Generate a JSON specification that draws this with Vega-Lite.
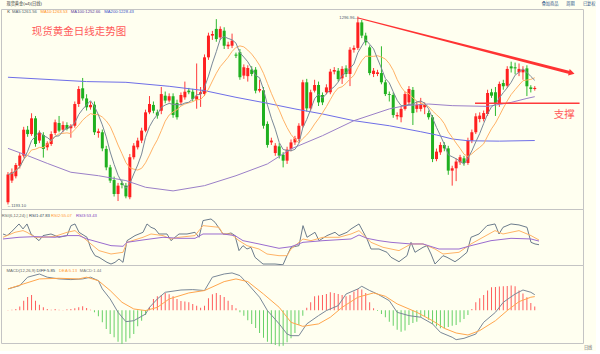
{
  "$schema": "https://vega.github.io/schema/vega-lite/v6.json",
  "background": "#fffff0",
  "padding": {"left": 0, "top": 1, "right": 0, "bottom": 0},
  "spacing": 0,
  "bounds": "flush",
  "resolve": {"scale": {"color": "independent", "size": "independent"}},
  "config": {
    "view": {"stroke": "#c4c4c4", "strokeWidth": 1},
    "axis": {"domain": false, "ticks": false, "labelFontSize": 5, "labelColor": "#555555", "labelFont": "Liberation Sans", "gridColor": "#cfcfcf", "gridDash": [2, 2], "gridWidth": 0.7, "labelPadding": 2}
  },
  "datasets": {
    "k": [
      {"i":0,"o":1194.3,"h":1211.0,"l":1193.1,"c":1209.6},
      {"i":1,"o":1206.3,"h":1213.0,"l":1205.0,"c":1210.9},
      {"i":2,"o":1208.7,"h":1216.0,"l":1207.5,"c":1214.9},
      {"i":3,"o":1214.5,"h":1221.5,"l":1213.0,"c":1220.1},
      {"i":4,"o":1220.1,"h":1236.0,"l":1219.0,"c":1234.4},
      {"i":5,"o":1234.4,"h":1236.5,"l":1230.5,"c":1232.0},
      {"i":6,"o":1232.0,"h":1243.5,"l":1231.0,"c":1240.7},
      {"i":7,"o":1240.7,"h":1242.0,"l":1225.0,"c":1226.5},
      {"i":8,"o":1228.4,"h":1234.0,"l":1227.0,"c":1232.6},
      {"i":9,"o":1231.5,"h":1233.0,"l":1219.0,"c":1223.8},
      {"i":10,"o":1224.7,"h":1228.0,"l":1223.0,"c":1226.9},
      {"i":11,"o":1226.5,"h":1233.5,"l":1225.5,"c":1232.0},
      {"i":12,"o":1232.6,"h":1240.0,"l":1231.5,"c":1238.5},
      {"i":13,"o":1238.1,"h":1242.0,"l":1233.0,"c":1233.9},
      {"i":14,"o":1234.4,"h":1239.0,"l":1233.0,"c":1237.0},
      {"i":15,"o":1237.0,"h":1238.5,"l":1234.0,"c":1234.8},
      {"i":16,"o":1235.2,"h":1237.5,"l":1230.0,"c":1236.6},
      {"i":17,"o":1236.6,"h":1250.0,"l":1235.5,"c":1248.6},
      {"i":18,"o":1248.6,"h":1258.5,"l":1247.0,"c":1256.9},
      {"i":19,"o":1257.3,"h":1263.0,"l":1250.5,"c":1251.7},
      {"i":20,"o":1251.7,"h":1254.0,"l":1245.0,"c":1246.8},
      {"i":21,"o":1246.8,"h":1250.0,"l":1245.5,"c":1248.1},
      {"i":22,"o":1248.2,"h":1250.0,"l":1231.5,"c":1233.0},
      {"i":23,"o":1232.6,"h":1235.0,"l":1230.0,"c":1233.5},
      {"i":24,"o":1233.0,"h":1234.5,"l":1222.5,"c":1224.1},
      {"i":25,"o":1223.8,"h":1225.5,"l":1212.0,"c":1213.6},
      {"i":26,"o":1213.6,"h":1215.0,"l":1205.0,"c":1206.3},
      {"i":27,"o":1206.6,"h":1208.5,"l":1197.5,"c":1198.9},
      {"i":28,"o":1198.9,"h":1205.0,"l":1195.0,"c":1203.5},
      {"i":29,"o":1205.0,"h":1206.5,"l":1202.0,"c":1203.9},
      {"i":30,"o":1203.5,"h":1205.0,"l":1196.5,"c":1197.6},
      {"i":31,"o":1197.1,"h":1221.0,"l":1196.0,"c":1219.2},
      {"i":32,"o":1219.2,"h":1227.0,"l":1218.0,"c":1225.6},
      {"i":33,"o":1224.7,"h":1230.0,"l":1223.5,"c":1228.4},
      {"i":34,"o":1228.4,"h":1235.5,"l":1227.0,"c":1233.9},
      {"i":35,"o":1233.9,"h":1245.5,"l":1233.0,"c":1244.0},
      {"i":36,"o":1244.0,"h":1253.0,"l":1243.0,"c":1248.6},
      {"i":37,"o":1248.1,"h":1250.0,"l":1243.5,"c":1244.9},
      {"i":38,"o":1244.0,"h":1245.5,"l":1240.5,"c":1242.2},
      {"i":39,"o":1244.9,"h":1258.0,"l":1243.0,"c":1254.1},
      {"i":40,"o":1253.2,"h":1255.5,"l":1249.0,"c":1250.5},
      {"i":41,"o":1250.5,"h":1254.5,"l":1249.5,"c":1252.9},
      {"i":42,"o":1252.9,"h":1254.5,"l":1241.0,"c":1242.5},
      {"i":43,"o":1249.2,"h":1251.0,"l":1240.0,"c":1241.3},
      {"i":44,"o":1249.5,"h":1255.0,"l":1248.0,"c":1253.6},
      {"i":45,"o":1252.3,"h":1261.0,"l":1251.0,"c":1255.4},
      {"i":46,"o":1256.0,"h":1257.5,"l":1254.0,"c":1255.1},
      {"i":47,"o":1255.4,"h":1257.0,"l":1250.0,"c":1251.4},
      {"i":48,"o":1251.0,"h":1271.0,"l":1246.0,"c":1252.9},
      {"i":49,"o":1254.1,"h":1258.0,"l":1247.0,"c":1255.1},
      {"i":50,"o":1254.1,"h":1276.0,"l":1253.0,"c":1274.4},
      {"i":51,"o":1274.4,"h":1288.0,"l":1273.0,"c":1286.4},
      {"i":52,"o":1286.4,"h":1289.0,"l":1284.0,"c":1287.3},
      {"i":53,"o":1290.1,"h":1295.5,"l":1283.0,"c":1284.5},
      {"i":54,"o":1285.4,"h":1291.5,"l":1284.0,"c":1290.1},
      {"i":55,"o":1289.1,"h":1291.0,"l":1279.0,"c":1280.8},
      {"i":56,"o":1280.5,"h":1283.0,"l":1279.0,"c":1281.4},
      {"i":57,"o":1280.8,"h":1287.5,"l":1279.5,"c":1283.6},
      {"i":58,"o":1275.9,"h":1277.0,"l":1274.0,"c":1275.3},
      {"i":59,"o":1277.2,"h":1279.0,"l":1262.0,"c":1263.4},
      {"i":60,"o":1264.3,"h":1270.5,"l":1262.5,"c":1268.9},
      {"i":61,"o":1264.0,"h":1270.0,"l":1261.0,"c":1268.5},
      {"i":62,"o":1267.6,"h":1269.5,"l":1264.0,"c":1265.2},
      {"i":63,"o":1267.6,"h":1269.0,"l":1254.5,"c":1256.0},
      {"i":64,"o":1256.0,"h":1262.0,"l":1255.0,"c":1256.9},
      {"i":65,"o":1256.2,"h":1258.0,"l":1235.0,"c":1236.6},
      {"i":66,"o":1237.6,"h":1239.0,"l":1224.5,"c":1226.0},
      {"i":67,"o":1227.4,"h":1230.0,"l":1226.0,"c":1228.4},
      {"i":68,"o":1221.5,"h":1227.0,"l":1220.0,"c":1225.6},
      {"i":69,"o":1225.2,"h":1227.0,"l":1218.5,"c":1220.1},
      {"i":70,"o":1220.6,"h":1222.0,"l":1213.6,"c":1217.3},
      {"i":71,"o":1217.3,"h":1225.0,"l":1215.5,"c":1223.4},
      {"i":72,"o":1223.8,"h":1229.0,"l":1222.5,"c":1227.4},
      {"i":73,"o":1227.4,"h":1231.0,"l":1226.0,"c":1229.6},
      {"i":74,"o":1229.3,"h":1238.0,"l":1228.0,"c":1236.6},
      {"i":75,"o":1236.6,"h":1262.0,"l":1235.5,"c":1260.6},
      {"i":76,"o":1260.6,"h":1262.5,"l":1244.5,"c":1246.2},
      {"i":77,"o":1246.2,"h":1256.5,"l":1245.0,"c":1255.1},
      {"i":78,"o":1256.0,"h":1262.0,"l":1255.0,"c":1259.1},
      {"i":79,"o":1259.1,"h":1261.0,"l":1247.5,"c":1249.5},
      {"i":80,"o":1253.6,"h":1255.0,"l":1248.0,"c":1249.5},
      {"i":81,"o":1255.1,"h":1259.5,"l":1254.0,"c":1257.8},
      {"i":82,"o":1255.1,"h":1268.0,"l":1254.0,"c":1266.5},
      {"i":83,"o":1266.5,"h":1269.0,"l":1265.0,"c":1267.4},
      {"i":84,"o":1267.0,"h":1268.5,"l":1261.0,"c":1262.4},
      {"i":85,"o":1262.8,"h":1269.5,"l":1259.7,"c":1268.0},
      {"i":86,"o":1268.3,"h":1270.0,"l":1263.5,"c":1265.2},
      {"i":87,"o":1265.2,"h":1280.0,"l":1258.5,"c":1278.6},
      {"i":88,"o":1278.6,"h":1281.0,"l":1277.0,"c":1279.6},
      {"i":89,"o":1279.6,"h":1296.96,"l":1278.5,"c":1293.7},
      {"i":90,"o":1293.7,"h":1295.0,"l":1285.0,"c":1286.4},
      {"i":91,"o":1286.4,"h":1288.0,"l":1281.0,"c":1282.7},
      {"i":92,"o":1279.9,"h":1281.0,"l":1264.5,"c":1265.7},
      {"i":93,"o":1265.2,"h":1268.5,"l":1263.5,"c":1267.0},
      {"i":94,"o":1265.2,"h":1267.5,"l":1264.0,"c":1266.1},
      {"i":95,"o":1265.7,"h":1280.5,"l":1259.5,"c":1260.6},
      {"i":96,"o":1260.6,"h":1262.0,"l":1253.0,"c":1254.1},
      {"i":97,"o":1254.1,"h":1255.5,"l":1250.0,"c":1253.6},
      {"i":98,"o":1253.6,"h":1255.0,"l":1241.0,"c":1242.5},
      {"i":99,"o":1241.8,"h":1244.0,"l":1240.0,"c":1242.5},
      {"i":100,"o":1241.3,"h":1247.5,"l":1238.5,"c":1245.9},
      {"i":101,"o":1245.9,"h":1255.5,"l":1245.0,"c":1254.1},
      {"i":102,"o":1249.5,"h":1258.5,"l":1248.0,"c":1256.9},
      {"i":103,"o":1256.4,"h":1258.0,"l":1237.0,"c":1243.6},
      {"i":104,"o":1245.9,"h":1250.0,"l":1244.0,"c":1248.1},
      {"i":105,"o":1245.9,"h":1252.0,"l":1244.5,"c":1248.6},
      {"i":106,"o":1246.8,"h":1249.5,"l":1243.0,"c":1248.1},
      {"i":107,"o":1243.6,"h":1245.0,"l":1240.0,"c":1241.3},
      {"i":108,"o":1241.3,"h":1242.5,"l":1216.5,"c":1218.2},
      {"i":109,"o":1218.2,"h":1224.0,"l":1217.0,"c":1222.3},
      {"i":110,"o":1221.9,"h":1227.5,"l":1220.5,"c":1226.0},
      {"i":111,"o":1226.0,"h":1227.5,"l":1222.5,"c":1224.1},
      {"i":112,"o":1224.1,"h":1225.5,"l":1209.5,"c":1211.8},
      {"i":113,"o":1211.8,"h":1214.5,"l":1203.5,"c":1213.1},
      {"i":114,"o":1213.1,"h":1218.5,"l":1206.0,"c":1216.8},
      {"i":115,"o":1216.4,"h":1220.5,"l":1215.0,"c":1219.2},
      {"i":116,"o":1218.6,"h":1220.0,"l":1214.5,"c":1216.0},
      {"i":117,"o":1216.0,"h":1230.0,"l":1215.0,"c":1228.4},
      {"i":118,"o":1228.4,"h":1234.5,"l":1227.0,"c":1233.0},
      {"i":119,"o":1233.0,"h":1243.5,"l":1232.0,"c":1241.8},
      {"i":120,"o":1240.3,"h":1244.0,"l":1238.5,"c":1242.2},
      {"i":121,"o":1240.3,"h":1245.0,"l":1239.0,"c":1243.6},
      {"i":122,"o":1243.1,"h":1256.5,"l":1242.0,"c":1254.7},
      {"i":123,"o":1255.1,"h":1257.0,"l":1252.0,"c":1253.2},
      {"i":124,"o":1255.1,"h":1258.0,"l":1242.0,"c":1248.6},
      {"i":125,"o":1248.6,"h":1261.0,"l":1247.0,"c":1259.7},
      {"i":126,"o":1260.2,"h":1262.0,"l":1256.5,"c":1258.4},
      {"i":127,"o":1258.7,"h":1269.5,"l":1257.5,"c":1268.0},
      {"i":128,"o":1269.4,"h":1272.0,"l":1266.0,"c":1268.3},
      {"i":129,"o":1268.9,"h":1271.5,"l":1265.0,"c":1268.3},
      {"i":130,"o":1266.1,"h":1271.0,"l":1264.0,"c":1268.0},
      {"i":131,"o":1266.1,"h":1269.5,"l":1262.0,"c":1267.6},
      {"i":132,"o":1268.3,"h":1270.0,"l":1253.0,"c":1258.4},
      {"i":133,"o":1257.8,"h":1259.0,"l":1255.0,"c":1256.9},
      {"i":134,"o":1256.9,"h":1258.5,"l":1256.0,"c":1257.5}
    ],
    "ma100": [
      {"i":0,"v":1224.1},{"i":5,"v":1220.1},{"i":10,"v":1215.8},{"i":16,"v":1210.9},{"i":23,"v":1209.0},{"i":30,"v":1206.3},{"i":35,"v":1202.6},{"i":42,"v":1200.6},{"i":50,"v":1203.5},{"i":58,"v":1209.0},{"i":66,"v":1215.5},{"i":72,"v":1223.8},{"i":80,"v":1231.1},{"i":88,"v":1239.4},{"i":97,"v":1245.9},{"i":101,"v":1247.7},{"i":107,"v":1248.6},{"i":113,"v":1247.7},{"i":122,"v":1247.3},{"i":128,"v":1249.5},{"i":132,"v":1251.7},{"i":134,"v":1252.66}
    ],
    "ma200": [
      {"i":0,"v":1263.4},{"i":20,"v":1261.0},{"i":30,"v":1260.6},{"i":41,"v":1258.4},{"i":50,"v":1256.0},{"i":58,"v":1252.3},{"i":66,"v":1249.0},{"i":73,"v":1245.9},{"i":80,"v":1243.1},{"i":88,"v":1239.4},{"i":97,"v":1236.6},{"i":105,"v":1233.3},{"i":109,"v":1231.5},{"i":113,"v":1229.3},{"i":117,"v":1228.3},{"i":125,"v":1228.1},{"i":134,"v":1228.43}
    ],
    "rsi": [
      {"i":0,"k":"RSI1","v":64.4},{"i":1,"k":"RSI1","v":61.9},{"i":2,"k":"RSI1","v":67.0},{"i":4,"k":"RSI1","v":79.9},{"i":5,"k":"RSI1","v":72.2},{"i":6,"k":"RSI1","v":79.9},{"i":7,"k":"RSI1","v":64.4},{"i":8,"k":"RSI1","v":59.3},{"i":9,"k":"RSI1","v":54.1},{"i":10,"k":"RSI1","v":61.9},{"i":12,"k":"RSI1","v":64.4},{"i":13,"k":"RSI1","v":61.9},{"i":14,"k":"RSI1","v":59.3},{"i":16,"k":"RSI1","v":61.9},{"i":17,"k":"RSI1","v":77.3},{"i":18,"k":"RSI1","v":79.9},{"i":19,"k":"RSI1","v":67.0},{"i":21,"k":"RSI1","v":59.3},{"i":22,"k":"RSI1","v":41.2},{"i":23,"k":"RSI1","v":30.9},{"i":24,"k":"RSI1","v":28.4},{"i":26,"k":"RSI1","v":20.6},{"i":27,"k":"RSI1","v":18.0},{"i":28,"k":"RSI1","v":20.6},{"i":29,"k":"RSI1","v":25.8},{"i":30,"k":"RSI1","v":20.6},{"i":31,"k":"RSI1","v":54.1},{"i":33,"k":"RSI1","v":61.9},{"i":35,"k":"RSI1","v":67.0},{"i":36,"k":"RSI1","v":79.9},{"i":37,"k":"RSI1","v":74.7},{"i":38,"k":"RSI1","v":72.2},{"i":39,"k":"RSI1","v":64.4},{"i":41,"k":"RSI1","v":64.4},{"i":42,"k":"RSI1","v":54.1},{"i":43,"k":"RSI1","v":59.3},{"i":44,"k":"RSI1","v":64.4},{"i":46,"k":"RSI1","v":64.4},{"i":48,"k":"RSI1","v":67.0},{"i":49,"k":"RSI1","v":59.3},{"i":50,"k":"RSI1","v":85.1},{"i":52,"k":"RSI1","v":87.6},{"i":53,"k":"RSI1","v":82.5},{"i":55,"k":"RSI1","v":64.4},{"i":56,"k":"RSI1","v":64.4},{"i":57,"k":"RSI1","v":66.0},{"i":58,"k":"RSI1","v":61.9},{"i":59,"k":"RSI1","v":38.7},{"i":60,"k":"RSI1","v":46.4},{"i":61,"k":"RSI1","v":41.2},{"i":62,"k":"RSI1","v":43.8},{"i":63,"k":"RSI1","v":28.4},{"i":65,"k":"RSI1","v":18.0},{"i":67,"k":"RSI1","v":18.0},{"i":68,"k":"RSI1","v":18.0},{"i":70,"k":"RSI1","v":16.8},{"i":71,"k":"RSI1","v":30.9},{"i":72,"k":"RSI1","v":43.8},{"i":74,"k":"RSI1","v":46.4},{"i":75,"k":"RSI1","v":77.3},{"i":76,"k":"RSI1","v":59.3},{"i":78,"k":"RSI1","v":67.0},{"i":79,"k":"RSI1","v":54.1},{"i":81,"k":"RSI1","v":61.9},{"i":83,"k":"RSI1","v":67.0},{"i":84,"k":"RSI1","v":61.9},{"i":86,"k":"RSI1","v":67.0},{"i":87,"k":"RSI1","v":72.2},{"i":89,"k":"RSI1","v":79.9},{"i":91,"k":"RSI1","v":56.7},{"i":92,"k":"RSI1","v":41.2},{"i":94,"k":"RSI1","v":41.2},{"i":96,"k":"RSI1","v":36.1},{"i":97,"k":"RSI1","v":28.4},{"i":99,"k":"RSI1","v":21.6},{"i":101,"k":"RSI1","v":30.9},{"i":102,"k":"RSI1","v":51.5},{"i":103,"k":"RSI1","v":36.1},{"i":105,"k":"RSI1","v":43.8},{"i":106,"k":"RSI1","v":46.4},{"i":107,"k":"RSI1","v":33.5},{"i":108,"k":"RSI1","v":18.0},{"i":110,"k":"RSI1","v":30.9},{"i":111,"k":"RSI1","v":28.4},{"i":113,"k":"RSI1","v":21.6},{"i":114,"k":"RSI1","v":25.8},{"i":116,"k":"RSI1","v":36.1},{"i":117,"k":"RSI1","v":59.3},{"i":119,"k":"RSI1","v":64.4},{"i":121,"k":"RSI1","v":77.3},{"i":123,"k":"RSI1","v":79.9},{"i":124,"k":"RSI1","v":64.4},{"i":125,"k":"RSI1","v":74.7},{"i":127,"k":"RSI1","v":79.9},{"i":129,"k":"RSI1","v":78.4},{"i":131,"k":"RSI1","v":74.7},{"i":132,"k":"RSI1","v":51.5},{"i":133,"k":"RSI1","v":49.0},{"i":134,"k":"RSI1","v":47.83},
      {"i":0,"k":"RSI2","v":59.3},{"i":3,"k":"RSI2","v":67.0},{"i":5,"k":"RSI2","v":69.6},{"i":6,"k":"RSI2","v":67.0},{"i":8,"k":"RSI2","v":59.3},{"i":10,"k":"RSI2","v":59.3},{"i":13,"k":"RSI2","v":60.8},{"i":16,"k":"RSI2","v":67.0},{"i":18,"k":"RSI2","v":69.6},{"i":19,"k":"RSI2","v":64.4},{"i":21,"k":"RSI2","v":54.1},{"i":23,"k":"RSI2","v":43.8},{"i":24,"k":"RSI2","v":38.7},{"i":27,"k":"RSI2","v":33.5},{"i":30,"k":"RSI2","v":36.1},{"i":31,"k":"RSI2","v":51.5},{"i":35,"k":"RSI2","v":59.3},{"i":37,"k":"RSI2","v":64.4},{"i":40,"k":"RSI2","v":61.9},{"i":42,"k":"RSI2","v":56.7},{"i":44,"k":"RSI2","v":59.3},{"i":48,"k":"RSI2","v":61.9},{"i":50,"k":"RSI2","v":77.3},{"i":54,"k":"RSI2","v":74.7},{"i":55,"k":"RSI2","v":64.4},{"i":57,"k":"RSI2","v":64.4},{"i":59,"k":"RSI2","v":54.1},{"i":61,"k":"RSI2","v":46.4},{"i":64,"k":"RSI2","v":41.2},{"i":66,"k":"RSI2","v":33.5},{"i":69,"k":"RSI2","v":30.9},{"i":71,"k":"RSI2","v":30.9},{"i":72,"k":"RSI2","v":41.2},{"i":75,"k":"RSI2","v":56.7},{"i":77,"k":"RSI2","v":54.1},{"i":80,"k":"RSI2","v":59.3},{"i":84,"k":"RSI2","v":59.3},{"i":87,"k":"RSI2","v":64.4},{"i":89,"k":"RSI2","v":69.6},{"i":92,"k":"RSI2","v":51.5},{"i":95,"k":"RSI2","v":43.8},{"i":99,"k":"RSI2","v":38.7},{"i":102,"k":"RSI2","v":49.0},{"i":105,"k":"RSI2","v":49.0},{"i":108,"k":"RSI2","v":41.2},{"i":110,"k":"RSI2","v":33.5},{"i":114,"k":"RSI2","v":36.1},{"i":117,"k":"RSI2","v":49.0},{"i":120,"k":"RSI2","v":59.3},{"i":123,"k":"RSI2","v":69.6},{"i":125,"k":"RSI2","v":64.4},{"i":129,"k":"RSI2","v":69.6},{"i":132,"k":"RSI2","v":61.9},{"i":134,"k":"RSI2","v":55.07},
      {"i":0,"k":"RSI3","v":56.7},{"i":4,"k":"RSI3","v":59.3},{"i":8,"k":"RSI3","v":60.3},{"i":13,"k":"RSI3","v":59.3},{"i":16,"k":"RSI3","v":61.9},{"i":19,"k":"RSI3","v":61.9},{"i":21,"k":"RSI3","v":56.7},{"i":24,"k":"RSI3","v":51.5},{"i":27,"k":"RSI3","v":46.4},{"i":30,"k":"RSI3","v":45.4},{"i":31,"k":"RSI3","v":51.5},{"i":35,"k":"RSI3","v":55.2},{"i":40,"k":"RSI3","v":59.3},{"i":44,"k":"RSI3","v":57.7},{"i":48,"k":"RSI3","v":57.7},{"i":50,"k":"RSI3","v":64.4},{"i":55,"k":"RSI3","v":64.4},{"i":58,"k":"RSI3","v":61.9},{"i":60,"k":"RSI3","v":54.1},{"i":64,"k":"RSI3","v":49.0},{"i":69,"k":"RSI3","v":42.3},{"i":72,"k":"RSI3","v":44.8},{"i":75,"k":"RSI3","v":51.5},{"i":80,"k":"RSI3","v":54.1},{"i":87,"k":"RSI3","v":56.7},{"i":89,"k":"RSI3","v":62.9},{"i":91,"k":"RSI3","v":57.7},{"i":94,"k":"RSI3","v":54.1},{"i":97,"k":"RSI3","v":51.5},{"i":102,"k":"RSI3","v":49.0},{"i":105,"k":"RSI3","v":49.0},{"i":109,"k":"RSI3","v":41.2},{"i":114,"k":"RSI3","v":41.2},{"i":117,"k":"RSI3","v":46.4},{"i":122,"k":"RSI3","v":54.1},{"i":127,"k":"RSI3","v":57.7},{"i":132,"k":"RSI3","v":56.7},{"i":134,"k":"RSI3","v":53.43}
    ],
    "macd": [
      {"i":0,"k":"DIFF","v":8.0},{"i":3,"k":"DIFF","v":9.25},{"i":5,"k":"DIFF","v":12.4},{"i":8,"k":"DIFF","v":13.6},{"i":10,"k":"DIFF","v":12.4},{"i":13,"k":"DIFF","v":11.75},{"i":16,"k":"DIFF","v":11.5},{"i":19,"k":"DIFF","v":11.75},{"i":21,"k":"DIFF","v":12.4},{"i":23,"k":"DIFF","v":11.1},{"i":24,"k":"DIFF","v":8.0},{"i":26,"k":"DIFF","v":4.25},{"i":28,"k":"DIFF","v":-0.75},{"i":30,"k":"DIFF","v":-4.25},{"i":32,"k":"DIFF","v":-3.9},{"i":35,"k":"DIFF","v":-1.4},{"i":36,"k":"DIFF","v":1.1},{"i":38,"k":"DIFF","v":4.25},{"i":40,"k":"DIFF","v":6.75},{"i":44,"k":"DIFF","v":7.6},{"i":47,"k":"DIFF","v":7.75},{"i":50,"k":"DIFF","v":7.4},{"i":52,"k":"DIFF","v":12.4},{"i":55,"k":"DIFF","v":13.6},{"i":57,"k":"DIFF","v":14.0},{"i":59,"k":"DIFF","v":13.0},{"i":61,"k":"DIFF","v":9.9},{"i":64,"k":"DIFF","v":4.9},{"i":66,"k":"DIFF","v":-0.1},{"i":69,"k":"DIFF","v":-5.1},{"i":71,"k":"DIFF","v":-8.9},{"i":72,"k":"DIFF","v":-9.5},{"i":74,"k":"DIFF","v":-9.5},{"i":76,"k":"DIFF","v":-5.1},{"i":79,"k":"DIFF","v":-2.0},{"i":81,"k":"DIFF","v":-0.1},{"i":84,"k":"DIFF","v":1.75},{"i":86,"k":"DIFF","v":6.1},{"i":89,"k":"DIFF","v":8.0},{"i":90,"k":"DIFF","v":9.0},{"i":92,"k":"DIFF","v":7.4},{"i":94,"k":"DIFF","v":6.1},{"i":97,"k":"DIFF","v":3.6},{"i":99,"k":"DIFF","v":-0.75},{"i":102,"k":"DIFF","v":-2.0},{"i":105,"k":"DIFF","v":-2.6},{"i":108,"k":"DIFF","v":-5.1},{"i":110,"k":"DIFF","v":-8.25},{"i":113,"k":"DIFF","v":-10.1},{"i":114,"k":"DIFF","v":-11.0},{"i":116,"k":"DIFF","v":-10.5},{"i":119,"k":"DIFF","v":-8.9},{"i":121,"k":"DIFF","v":-4.5},{"i":124,"k":"DIFF","v":-0.75},{"i":126,"k":"DIFF","v":3.0},{"i":129,"k":"DIFF","v":6.1},{"i":131,"k":"DIFF","v":7.6},{"i":133,"k":"DIFF","v":6.75},{"i":134,"k":"DIFF","v":5.85},
      {"i":0,"k":"DEA","v":8.0},{"i":4,"k":"DEA","v":9.9},{"i":8,"k":"DEA","v":11.75},{"i":13,"k":"DEA","v":12.0},{"i":18,"k":"DEA","v":11.75},{"i":20,"k":"DEA","v":12.4},{"i":23,"k":"DEA","v":11.1},{"i":26,"k":"DEA","v":7.4},{"i":29,"k":"DEA","v":3.0},{"i":32,"k":"DEA","v":0.5},{"i":35,"k":"DEA","v":-0.1},{"i":38,"k":"DEA","v":1.1},{"i":41,"k":"DEA","v":4.25},{"i":46,"k":"DEA","v":6.5},{"i":50,"k":"DEA","v":7.4},{"i":55,"k":"DEA","v":10.75},{"i":58,"k":"DEA","v":11.75},{"i":61,"k":"DEA","v":10.75},{"i":65,"k":"DEA","v":6.1},{"i":69,"k":"DEA","v":1.1},{"i":72,"k":"DEA","v":-4.5},{"i":75,"k":"DEA","v":-6.0},{"i":79,"k":"DEA","v":-5.1},{"i":82,"k":"DEA","v":-2.6},{"i":85,"k":"DEA","v":1.1},{"i":89,"k":"DEA","v":4.9},{"i":93,"k":"DEA","v":6.5},{"i":96,"k":"DEA","v":5.25},{"i":99,"k":"DEA","v":2.4},{"i":104,"k":"DEA","v":-0.75},{"i":108,"k":"DEA","v":-3.9},{"i":111,"k":"DEA","v":-6.75},{"i":114,"k":"DEA","v":-8.5},{"i":117,"k":"DEA","v":-9.25},{"i":120,"k":"DEA","v":-7.6},{"i":124,"k":"DEA","v":-3.9},{"i":127,"k":"DEA","v":-0.1},{"i":130,"k":"DEA","v":3.25},{"i":133,"k":"DEA","v":4.9},{"i":134,"k":"DEA","v":5.13}
    ],
    "hist": [
      {"i":0,"m":0.1},{"i":1,"m":0.25},{"i":2,"m":0.5},{"i":3,"m":1.4},{"i":4,"m":3.6},{"i":5,"m":5.0},{"i":6,"m":5.75},{"i":7,"m":3.6},{"i":8,"m":2.1},{"i":9,"m":1.1},{"i":10,"m":0.5},{"i":11,"m":0.25},{"i":12,"m":0.5},{"i":13,"m":0.25},{"i":14,"m":0.1},{"i":15,"m":0.4},{"i":16,"m":0.5},{"i":17,"m":0.75},{"i":18,"m":1.1},{"i":19,"m":1.5},{"i":20,"m":0.9},{"i":21,"m":0.25},{"i":22,"m":-0.75},{"i":23,"m":-2.25},{"i":24,"m":-4.5},{"i":25,"m":-7.0},{"i":26,"m":-8.9},{"i":27,"m":-10.1},{"i":28,"m":-11.75},{"i":29,"m":-12.6},{"i":30,"m":-11.75},{"i":31,"m":-10.5},{"i":32,"m":-8.9},{"i":33,"m":-6.0},{"i":34,"m":-3.9},{"i":35,"m":-1.75},{"i":36,"m":1.1},{"i":37,"m":4.25},{"i":38,"m":5.25},{"i":39,"m":5.75},{"i":40,"m":6.5},{"i":41,"m":6.0},{"i":42,"m":5.25},{"i":43,"m":4.25},{"i":44,"m":3.5},{"i":45,"m":3.25},{"i":46,"m":3.0},{"i":47,"m":2.4},{"i":48,"m":1.75},{"i":49,"m":1.0},{"i":50,"m":1.75},{"i":51,"m":4.5},{"i":52,"m":6.0},{"i":53,"m":6.5},{"i":54,"m":5.75},{"i":55,"m":5.0},{"i":56,"m":3.6},{"i":57,"m":2.0},{"i":58,"m":0.75},{"i":59,"m":-0.75},{"i":60,"m":-2.0},{"i":61,"m":-3.75},{"i":62,"m":-5.1},{"i":63,"m":-6.6},{"i":64,"m":-8.5},{"i":65,"m":-10.25},{"i":66,"m":-11.75},{"i":67,"m":-12.6},{"i":68,"m":-13.0},{"i":69,"m":-13.5},{"i":70,"m":-13.25},{"i":71,"m":-12.0},{"i":72,"m":-10.5},{"i":73,"m":-8.5},{"i":74,"m":-5.5},{"i":75,"m":-2.0},{"i":76,"m":1.0},{"i":77,"m":3.0},{"i":78,"m":5.25},{"i":79,"m":5.5},{"i":80,"m":5.75},{"i":81,"m":6.1},{"i":82,"m":6.75},{"i":83,"m":6.5},{"i":84,"m":6.1},{"i":85,"m":5.75},{"i":86,"m":5.25},{"i":87,"m":5.75},{"i":88,"m":7.0},{"i":89,"m":8.0},{"i":90,"m":7.75},{"i":91,"m":6.5},{"i":92,"m":3.0},{"i":93,"m":0.75},{"i":94,"m":-0.25},{"i":95,"m":-1.4},{"i":96,"m":-2.6},{"i":97,"m":-4.25},{"i":98,"m":-5.75},{"i":99,"m":-7.25},{"i":100,"m":-8.0},{"i":101,"m":-7.6},{"i":102,"m":-5.5},{"i":103,"m":-4.75},{"i":104,"m":-4.25},{"i":105,"m":-2.6},{"i":106,"m":-2.25},{"i":107,"m":-3.5},{"i":108,"m":-5.1},{"i":109,"m":-6.0},{"i":110,"m":-6.75},{"i":111,"m":-6.75},{"i":112,"m":-6.25},{"i":113,"m":-5.75},{"i":114,"m":-5.5},{"i":115,"m":-4.5},{"i":116,"m":-3.25},{"i":117,"m":-1.75},{"i":118,"m":0.5},{"i":119,"m":3.0},{"i":120,"m":4.5},{"i":121,"m":5.75},{"i":122,"m":7.4},{"i":123,"m":8.6},{"i":124,"m":8.75},{"i":125,"m":8.9},{"i":126,"m":9.0},{"i":127,"m":9.1},{"i":128,"m":9.25},{"i":129,"m":9.0},{"i":130,"m":7.4},{"i":131,"m":6.25},{"i":132,"m":4.9},{"i":133,"m":2.75},{"i":134,"m":1.44}
    ],
    "toptxt": [
      {"i":-0.375,"p":1303.7,"t":"现货黄金(a4)(日线)","g":"title"},
      {"i":135.75,"p":1303.7,"t":"叠加商品","g":"btn"},
      {"i":142,"p":1303.7,"t":"周期","g":"btn"},
      {"i":146.25,"p":1303.7,"t":"已复权","g":"btn"},
      {"i":-0.2,"p":1299.6,"t":"K","g":"K"},
      {"i":1.0,"p":1299.6,"t":"MA5:1261.56","g":"MA5"},
      {"i":8.25,"p":1299.6,"t":"MA10:1263.53","g":"MA10"},
      {"i":16,"p":1299.6,"t":"MA100:1252.66","g":"MA100"},
      {"i":24.5,"p":1299.6,"t":"MA200:1228.43","g":"MA200"},
      {"i":-0.25,"p":1192.4,"t":"←1193.10","g":"lab"},
      {"i":84.3,"p":1296.4,"t":"1296.96—","g":"lab"}
    ],
    "notes": [
      {"i":18.1,"p":1288.2,"t":"现货黄金日线走势图"},
      {"i":141.5,"p":1242.5,"t":"支撑"}
    ],
    "trend": [{"i":89.1,"p":1296.1},{"i":142.6,"p":1266.2}],
    "head": [{"i":143.4,"p":1265.7}],
    "support": [{"i":118.8,"i2":145.4,"p":1249.0}],
    "rsitxt": [
      {"i":-0.33,"v":92.66,"t":"RSI(6,12,24) |","k":"r0"},
      {"i":6.5,"v":92.66,"t":"RSI1:47.83","k":"r1"},
      {"i":12,"v":92.66,"t":"RSI2:55.07","k":"r2"},
      {"i":18.25,"v":92.66,"t":"RSI3:53.43","k":"r3"}
    ],
    "macdtxt": [
      {"i":-0.4,"v":14.83,"t":"MACD(12,26,9)","k":"m0"},
      {"i":7.25,"v":14.83,"t":"DIFF:5.85","k":"m1"},
      {"i":13,"v":14.83,"t":"DEA:5.13","k":"m2"},
      {"i":18.25,"v":14.83,"t":"MACD:1.44","k":"m3"},
      {"i":146.5,"v":-14.1,"t":"日线","k":"m0"}
    ]
  },
  "vconcat": [
    {
      "width": 582,
      "height": 200,
      "layer": [
        {
          "data": {"name": "k"},
          "mark": {"type": "rule", "strokeWidth": 1},
          "encoding": {
            "x": {"field": "i", "type": "quantitative", "scale": {"domain": [-0.5, 145], "nice": false, "zero": false}, "axis": null},
            "y": {"field": "l", "type": "quantitative", "scale": {"domain": [1190.6, 1301.1], "nice": false, "zero": false}, "axis": {"orient": "right", "values": [1200, 1220, 1240, 1260, 1280], "title": null, "grid": true}},
            "y2": {"field": "h"},
            "color": {"condition": {"test": "datum.c >= datum.o", "value": "#ff3a3a"}, "value": "#2db82d"}
          }
        },
        {
          "data": {"name": "k"},
          "mark": {"type": "bar", "size": 3},
          "encoding": {
            "x": {"field": "i", "type": "quantitative", "scale": {"domain": [-0.5, 145], "nice": false, "zero": false}, "axis": null},
            "y": {"field": "o", "type": "quantitative", "scale": {"domain": [1190.6, 1301.1], "nice": false, "zero": false}, "axis": null},
            "y2": {"field": "c"},
            "color": {"condition": {"test": "datum.c >= datum.o", "value": "#ff2020"}, "value": "#1fb01f"}
          }
        },
        {
          "data": {"name": "ma200"},
          "mark": {"type": "line", "strokeWidth": 1, "color": "#6e6ee8"},
          "encoding": {
            "x": {"field": "i", "type": "quantitative", "scale": {"domain": [-0.5, 145], "nice": false, "zero": false}, "axis": null},
            "y": {"field": "v", "type": "quantitative", "scale": {"domain": [1190.6, 1301.1], "nice": false, "zero": false}, "axis": null}
          }
        },
        {
          "data": {"name": "ma100"},
          "mark": {"type": "line", "strokeWidth": 1, "color": "#9b80c8"},
          "encoding": {
            "x": {"field": "i", "type": "quantitative", "scale": {"domain": [-0.5, 145], "nice": false, "zero": false}, "axis": null},
            "y": {"field": "v", "type": "quantitative", "scale": {"domain": [1190.6, 1301.1], "nice": false, "zero": false}, "axis": null}
          }
        },
        {
          "data": {"name": "k"},
          "transform": [{"window": [{"op": "mean", "field": "c", "as": "ma10"}], "frame": [-9, 0], "sort": [{"field": "i", "order": "ascending"}]}],
          "mark": {"type": "line", "strokeWidth": 1, "color": "#ffb266"},
          "encoding": {
            "x": {"field": "i", "type": "quantitative", "scale": {"domain": [-0.5, 145], "nice": false, "zero": false}, "axis": null},
            "y": {"field": "ma10", "type": "quantitative", "scale": {"domain": [1190.6, 1301.1], "nice": false, "zero": false}, "axis": null}
          }
        },
        {
          "data": {"name": "k"},
          "transform": [{"window": [{"op": "mean", "field": "c", "as": "ma5"}], "frame": [-4, 0], "sort": [{"field": "i", "order": "ascending"}]}],
          "mark": {"type": "line", "strokeWidth": 1, "color": "#7a8898"},
          "encoding": {
            "x": {"field": "i", "type": "quantitative", "scale": {"domain": [-0.5, 145], "nice": false, "zero": false}, "axis": null},
            "y": {"field": "ma5", "type": "quantitative", "scale": {"domain": [1190.6, 1301.1], "nice": false, "zero": false}, "axis": null}
          }
        },
        {
          "data": {"name": "trend"},
          "mark": {"type": "trail", "color": "#ff3333"},
          "encoding": {
            "x": {"field": "i", "type": "quantitative", "scale": {"domain": [-0.5, 145], "nice": false, "zero": false}, "axis": null},
            "y": {"field": "p", "type": "quantitative", "scale": {"domain": [1190.6, 1301.1], "nice": false, "zero": false}, "axis": null},
            "size": {"field": "i", "type": "quantitative", "scale": {"domain": [89, 143], "range": [1, 3.2]}, "legend": null}
          }
        },
        {
          "data": {"name": "head"},
          "mark": {"type": "point", "shape": "triangle-right", "filled": true, "size": 45, "angle": 14, "color": "#ff3333", "opacity": 1},
          "encoding": {
            "x": {"field": "i", "type": "quantitative", "scale": {"domain": [-0.5, 145], "nice": false, "zero": false}, "axis": null},
            "y": {"field": "p", "type": "quantitative", "scale": {"domain": [1190.6, 1301.1], "nice": false, "zero": false}, "axis": null}
          }
        },
        {
          "data": {"name": "support"},
          "mark": {"type": "rule", "color": "#ff3b3b", "strokeWidth": 1.5},
          "encoding": {
            "x": {"field": "i", "type": "quantitative", "scale": {"domain": [-0.5, 145], "nice": false, "zero": false}, "axis": null},
            "x2": {"field": "i2"},
            "y": {"field": "p", "type": "quantitative", "scale": {"domain": [1190.6, 1301.1], "nice": false, "zero": false}, "axis": null}
          }
        },
        {
          "data": {"name": "notes"},
          "mark": {"type": "text", "align": "center", "baseline": "middle", "fontSize": 10.5, "font": "Noto Sans CJK SC", "color": "#ff5a5a"},
          "encoding": {
            "x": {"field": "i", "type": "quantitative", "scale": {"domain": [-0.5, 145], "nice": false, "zero": false}, "axis": null},
            "y": {"field": "p", "type": "quantitative", "scale": {"domain": [1190.6, 1301.1], "nice": false, "zero": false}, "axis": null},
            "text": {"field": "t"}
          }
        },
        {
          "data": {"name": "toptxt"},
          "mark": {"type": "text", "align": "left", "baseline": "middle", "fontSize": 4.2, "font": "Liberation Sans, Noto Sans CJK SC"},
          "encoding": {
            "x": {"field": "i", "type": "quantitative", "scale": {"domain": [-0.5, 145], "nice": false, "zero": false}, "axis": null},
            "y": {"field": "p", "type": "quantitative", "scale": {"domain": [1190.6, 1301.1], "nice": false, "zero": false}, "axis": null},
            "text": {"field": "t"},
            "color": {"field": "g", "type": "nominal", "scale": {"domain": ["title", "btn", "K", "MA5", "MA10", "MA100", "MA200", "lab"], "range": ["#333333", "#2a5488", "#333333", "#4d5d6d", "#ff8c1a", "#5a3a9a", "#3a50c8", "#4d5d6d"]}, "legend": null}
          }
        }
      ]
    },
    {
      "width": 582,
      "height": 56,
      "layer": [
        {
          "data": {"name": "rsi"},
          "mark": {"type": "line", "strokeWidth": 1},
          "encoding": {
            "x": {"field": "i", "type": "quantitative", "scale": {"domain": [-0.5, 145], "nice": false, "zero": false}, "axis": null},
            "y": {"field": "v", "type": "quantitative", "scale": {"domain": [16.5, 103], "nice": false, "zero": false}, "axis": {"orient": "right", "values": [20, 50, 80], "title": null, "grid": true}},
            "color": {"field": "k", "type": "nominal", "scale": {"domain": ["RSI1", "RSI2", "RSI3", "r0", "r1", "r2", "r3"], "range": ["#6c7c8c", "#ffb366", "#9a6ccf", "#666666", "#334455", "#ff9933", "#8040c0"]}, "legend": null}
          }
        },
        {
          "data": {"name": "rsitxt"},
          "mark": {"type": "text", "align": "left", "baseline": "middle", "fontSize": 4.2, "font": "Liberation Sans"},
          "encoding": {
            "x": {"field": "i", "type": "quantitative", "scale": {"domain": [-0.5, 145], "nice": false, "zero": false}, "axis": null},
            "y": {"field": "v", "type": "quantitative", "scale": {"domain": [16.5, 103], "nice": false, "zero": false}, "axis": null},
            "text": {"field": "t"},
            "color": {"field": "k", "type": "nominal", "scale": {"domain": ["RSI1", "RSI2", "RSI3", "r0", "r1", "r2", "r3"], "range": ["#6c7c8c", "#ffb366", "#9a6ccf", "#666666", "#334455", "#ff9933", "#8040c0"]}, "legend": null}
          }
        }
      ]
    },
    {
      "width": 582,
      "height": 78,
      "layer": [
        {
          "data": {"name": "hist"},
          "mark": {"type": "bar", "size": 1},
          "encoding": {
            "x": {"field": "i", "type": "quantitative", "scale": {"domain": [-0.5, 145], "nice": false, "zero": false}, "axis": {"orient": "bottom", "values": [0, 20, 43, 63, 86, 108, 129], "labelExpr": "datum.value == 0 ? '201702' : datum.value == 20 ? '03' : datum.value == 43 ? '04' : datum.value == 63 ? '05' : datum.value == 86 ? '06' : datum.value == 108 ? '07' : '08'", "title": null, "ticks": true, "tickSize": 3, "tickColor": "#aaaaaa", "labelAlign": "left", "labelPadding": 1, "labelFlush": false, "labelOverlap": false, "grid": false}},
            "y": {"field": "m", "type": "quantitative", "scale": {"domain": [-12.25, 16.97], "nice": false, "zero": false}, "axis": {"orient": "right", "values": [-6, 0, 6, 12], "title": null, "grid": true}},
            "y2": {"datum": 0},
            "color": {"condition": {"test": "datum.m >= 0", "value": "#ff5c5c"}, "value": "#66d166"}
          }
        },
        {
          "data": {"name": "macd"},
          "mark": {"type": "line", "strokeWidth": 1},
          "encoding": {
            "x": {"field": "i", "type": "quantitative", "scale": {"domain": [-0.5, 145], "nice": false, "zero": false}, "axis": null},
            "y": {"field": "v", "type": "quantitative", "scale": {"domain": [-12.25, 16.97], "nice": false, "zero": false}, "axis": null},
            "color": {"field": "k", "type": "nominal", "scale": {"domain": ["DIFF", "DEA", "m0", "m1", "m2", "m3"], "range": ["#7a8898", "#ffa64d", "#666666", "#334455", "#ff9933", "#777777"]}, "legend": null}
          }
        },
        {
          "data": {"name": "macdtxt"},
          "mark": {"type": "text", "align": "left", "baseline": "middle", "fontSize": 4.2, "font": "Liberation Sans, Noto Sans CJK SC"},
          "encoding": {
            "x": {"field": "i", "type": "quantitative", "scale": {"domain": [-0.5, 145], "nice": false, "zero": false}, "axis": null},
            "y": {"field": "v", "type": "quantitative", "scale": {"domain": [-12.25, 16.97], "nice": false, "zero": false}, "axis": null},
            "text": {"field": "t"},
            "color": {"field": "k", "type": "nominal", "scale": {"domain": ["DIFF", "DEA", "m0", "m1", "m2", "m3"], "range": ["#7a8898", "#ffa64d", "#666666", "#334455", "#ff9933", "#777777"]}, "legend": null}
          }
        }
      ]
    }
  ]
}
